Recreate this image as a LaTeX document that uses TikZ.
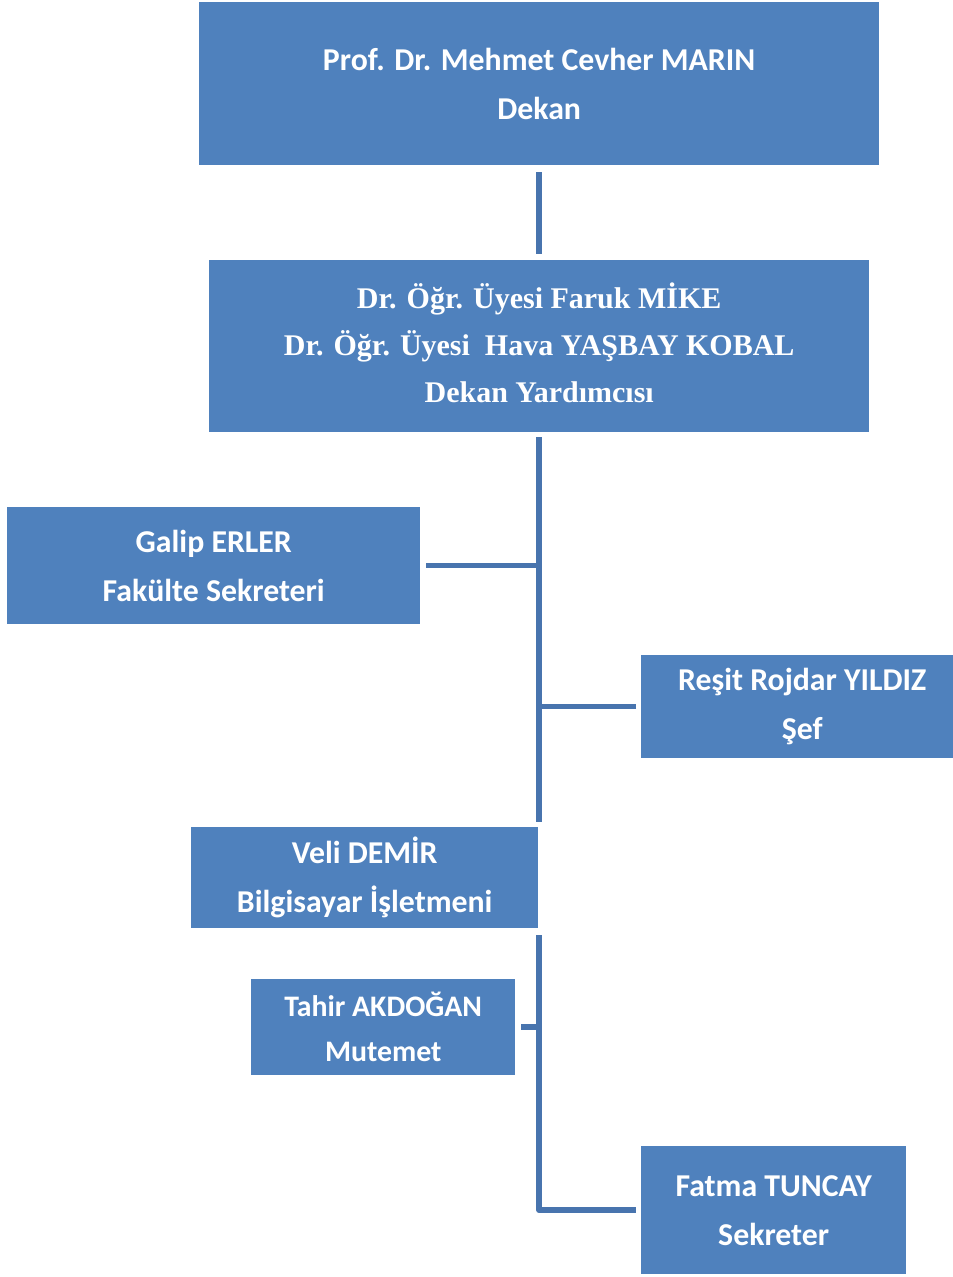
\documentclass[tikz,border=0pt]{standalone}
\usepackage{fontspec}
\setmainfont{Carlito}
\newfontfamily\camb{Liberation Serif}
\definecolor{boxblue}{HTML}{4F81BD}
\definecolor{lineblue}{HTML}{4874AE}
\begin{document}
\begin{tikzpicture}[x=1pt,y=-1pt,
  box/.style={fill=boxblue, draw=none, inner sep=0pt, anchor=north west, align=center,
    text=white, font=\bfseries\fontsize{31.8}{49}\selectfont},
  conn/.style={draw=lineblue, line width=5.5pt, line join=round}]
\useasboundingbox (0,0) rectangle (953,1277);
\clip (0,0) rectangle (953,1277);
\fill[white] (0,0) rectangle (953,1277);
% boxes
\node[box, minimum width=680pt, minimum height=163pt] (b1) at (199,2)
  {Prof. Dr. Mehmet Cevher MARIN\\Dekan};
\node[box, minimum width=660pt, minimum height=166pt, font=\camb\bfseries\fontsize{30}{47}\selectfont] (b2) at (209,260)
  {Dr. Öğr. Üyesi Faruk MİKE\\Dr. Öğr. Üyesi\ \ Hava YAŞBAY KOBAL\\Dekan Yardımcısı};
\fill[boxblue] (b2.south west) rectangle ++(660,6);
\node[box, minimum width=413pt, minimum height=117pt] (g) at (7,507)
  {Galip ERLER\\Fakülte Sekreteri};
\node[box, minimum width=322pt, minimum height=103pt] (r) at (641,655)
  {Reşit Rojdar YILDIZ\\Şef};
\node[box, minimum width=347pt, minimum height=101pt] (v) at (191,827)
  {Veli DEMİR\\Bilgisayar İşletmeni};
\node[box, minimum width=264pt, minimum height=96pt, font=\bfseries\fontsize{29.8}{45}\selectfont] (t) at (251,979)
  {Tahir AKDOĞAN\\Mutemet};
\node[box, minimum width=265pt, minimum height=128pt] (f) at (641,1146)
  {Fatma TUNCAY\\Sekreter};
% trunk coordinates
\coordinate (tA) at (539,437);
\coordinate (tB) at (539,822);
\coordinate (tC) at (539,935);
% connectors
\draw[conn, shorten <=7pt, shorten >=6pt] (b1.south -| tA) -- (b2.north -| tA);
\draw[conn] (tA) -- (tB);
\draw[conn, shorten <=6pt] (g.east) -- (g.east -| tA);
\draw[conn, shorten <=5pt] (r.west) -- (r.west -| tA);
\draw[conn, shorten <=6pt] (t.east) -- (t.east -| tC);
\draw[conn, shorten >=5pt] (tC) -- (f.west -| tC) -- (f.west);
\end{tikzpicture}
\end{document}
